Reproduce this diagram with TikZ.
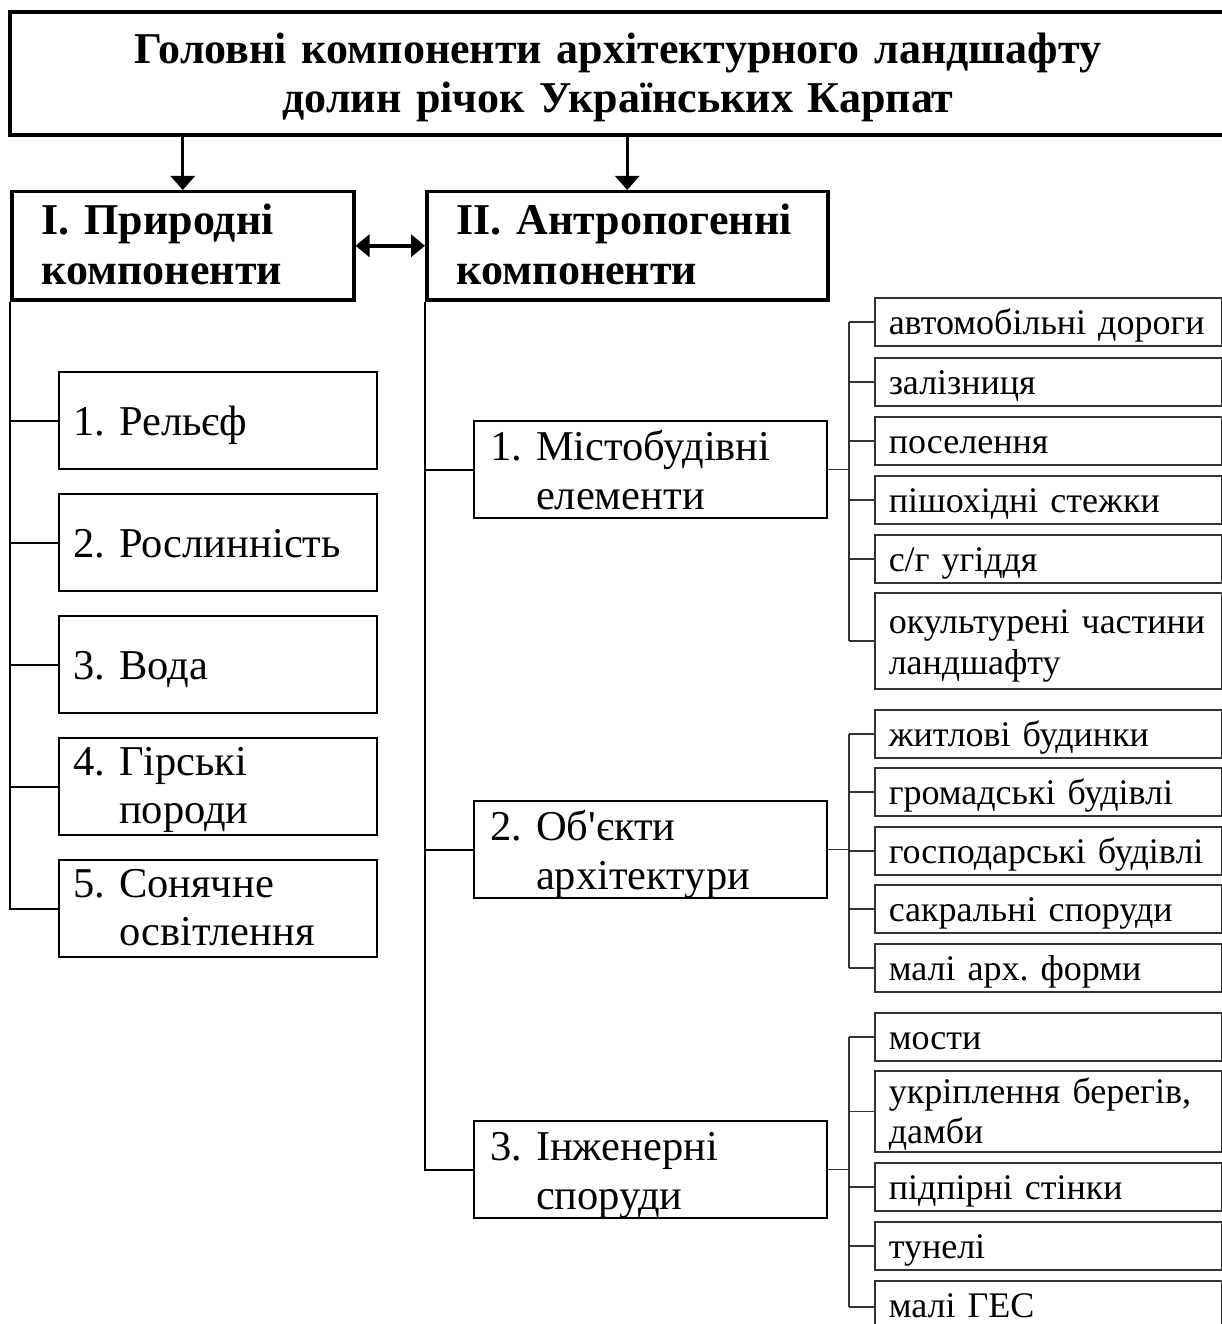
\documentclass[tikz,border=0pt]{standalone}
\usepackage{fontspec}
\setmainfont{Liberation Serif}
\usetikzlibrary{arrows.meta}
\frenchspacing
\begin{document}
\begin{tikzpicture}[x=1pt,y=-1pt,
  ttl/.style={draw, line width=4pt, font=\bfseries\fontsize{44}{49}\selectfont,
    align=center, anchor=north west, inner xsep=0pt, inner ysep=0pt,
    text width=1216pt, minimum height=123pt, text height=52pt, text depth=71pt},
  mainbox/.style={draw, line width=3.5pt, font=\bfseries\fontsize{44}{50}\selectfont,
    align=left, anchor=north west, inner xsep=30pt, inner ysep=0pt,
    minimum height=108pt, text height=43pt, text depth=65pt},
  lbox/.style={draw, line width=2pt, font=\fontsize{42.5}{48}\selectfont,
    align=left, anchor=north west, inner xsep=14pt, inner ysep=0pt,
    text width=290pt, minimum height=97pt, text height=63.5pt, text depth=33.5pt},
  lboxtwo/.style={lbox, text height=37pt, text depth=60pt},
  sbox/.style={draw, line width=2pt, font=\fontsize{42.5}{49}\selectfont,
    align=left, anchor=north west, inner xsep=16pt, inner ysep=0pt,
    text width=321pt, minimum height=97pt, text height=39pt, text depth=58pt},
  leaf/.style={draw=black!80, line width=1.5pt, font=\fontsize{36}{41}\selectfont,
    align=left, anchor=north west, inner xsep=14pt, inner ysep=0pt,
    text width=319pt, minimum height=48pt, text height=37pt, text depth=11pt},
  trunk/.style={draw, line width=2pt},
  leafline/.style={draw=black!80, line width=1.5pt},
  downarrow/.style={draw, line width=3pt, -{Triangle[length=14pt,width=24pt]}},
  bothway/.style={draw, line width=4pt, {Triangle[length=14pt,width=22pt]}-{Triangle[length=14pt,width=22pt]}}
]
\useasboundingbox (0,0) rectangle (1222,1324);
\clip (0,0) rectangle (1222,1324);
\fill[white] (0,0) rectangle (1222,1324);

% title
\node[ttl] (title) at (8,10) {Головні компоненти архітектурного ландшафту\\долин річок Українських Карпат};

% main boxes
\node[mainbox, text width=282pt] (I) at (10,190) {I. Природні\\компоненти};
\node[mainbox, text width=341pt] (II) at (425,190) {II. Антропогенні\\компоненти};

\draw[downarrow] (title.south -| I.north) -- (I.north);
\draw[downarrow] (title.south -| II.north) -- (II.north);
\draw[bothway] (I.east) -- (II.west);

% natural components
\node[lbox] (L1) at (58,371) {1. Рельєф};
\node[lbox] (L2) at (58,493) {2. Рослинність};
\node[lbox] (L3) at (58,615) {3. Вода};
\node[lboxtwo] (L4) at (58,737) {4. Гірські\\\phantom{4.\ }породи};
\node[lboxtwo] (L5) at (58,859) {5. Сонячне\\\phantom{5.\ }освітлення};

\draw[trunk] (I.south west) |- (L5.west);
\foreach \n in {L1,L2,L3,L4} \draw[trunk] (I.south west |- \n.west) -- (\n.west);

% anthropogenic components
\node[sbox] (S1) at (473,420) {1. Містобудівні\\\phantom{1.\ }елементи};
\node[sbox] (S2) at (473,800) {2. Об\textquotesingle єкти\\\phantom{2.\ }архітектури};
\node[sbox] (S3) at (473,1120) {3. Інженерні\\\phantom{3.\ }споруди};

\draw[trunk] (II.south west) |- (S3.west);
\foreach \n in {S1,S2} \draw[trunk] (II.south west |- \n.west) -- (\n.west);

% leaves
\node[leaf] (R1) at (874,297) {\mbox{автомобільні дороги}};
\node[leaf] (R2) at (874,357) {\mbox{залізниця}};
\node[leaf] (R3) at (874,416) {\mbox{поселення}};
\node[leaf] (R4) at (874,475) {\mbox{пішохідні стежки}};
\node[leaf] (R5) at (874,534) {\mbox{с/г угіддя}};
\node[leaf, minimum height=96pt, text height=41pt, text depth=55pt] (R6) at (874,592) {\mbox{окультурені частини}\\ландшафту};

\node[leaf] (R7) at (874,709) {\mbox{житлові будинки}};
\node[leaf] (R8) at (874,767) {\mbox{громадські будівлі}};
\node[leaf] (R9) at (874,826) {\mbox{господарські будівлі}};
\node[leaf] (R10) at (874,884) {\mbox{сакральні споруди}};
\node[leaf] (R11) at (874,943) {\mbox{малі арх. форми}};

\node[leaf] (R12) at (874,1012) {\mbox{мости}};
\node[leaf, minimum height=81pt, text height=33pt, text depth=48pt, font=\fontsize{36}{40}\selectfont] (R13) at (874,1070) {\mbox{укріплення берегів,}\\дамби};
\node[leaf] (R14) at (874,1162) {\mbox{підпірні стінки}};
\node[leaf] (R15) at (874,1221) {\mbox{тунелі}};
\node[leaf, minimum height=52pt, text depth=15pt] (R16) at (874,1280) {\mbox{малі ГЕС}};

\coordinate (bx) at (849,0);
\draw[leafline] (S1.east) -- (bx |- S1.east);
\draw[leafline] (bx |- R1.west) -- (bx |- R6.west);
\foreach \n in {R1,R2,R3,R4,R5,R6} \draw[leafline] (bx |- \n.west) -- (\n.west);

\draw[leafline] (S2.east) -- (bx |- S2.east);
\draw[leafline] (bx |- R7.west) -- (bx |- R11.west);
\foreach \n in {R7,R8,R9,R10,R11} \draw[leafline] (bx |- \n.west) -- (\n.west);

\draw[leafline] (S3.east) -- (bx |- S3.east);
\draw[leafline] (bx |- R12.west) -- (bx |- R16.west);
\foreach \n in {R12,R13,R14,R15,R16} \draw[leafline] (bx |- \n.west) -- (\n.west);
\end{tikzpicture}
\end{document}
